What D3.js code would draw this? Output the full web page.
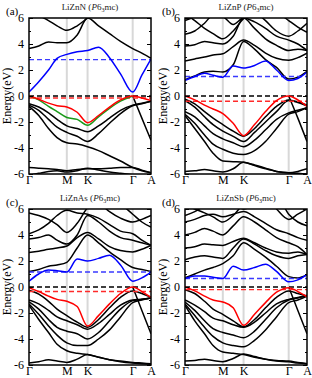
<!doctype html>
<html lang="en">
<head>
  <meta charset="UTF-8">
  <title>LiZnX band structures</title>
  <style type="text/css">
    body { margin: 0; background: #fff; }
    text { font-family: "Liberation Serif", "DejaVu Serif", serif; }
  </style>
  <script src="https://cdn.jsdelivr.net/npm/d3@7"></script>
</head>
<body>
  <div id="container"></div>
  <script>
    // k-path sample positions (fraction of the path) and high-symmetry labels
    var kpos = [0, .08, .16, .23, .31, .395, .48, .57, .66, .75, .85, .925, 1.0];
    var kLabelPos = [0, .31, .48, .85, 1.0];
    var kLabels = ["Γ", "M", "K", "Γ", "A"];
    var eTicks = [-6, -4, -2, 0, 2, 4, 6];
    var compounds = ["LiZnN", "LiZnP", "LiZnAs", "LiZnSb"];
    var tags = ["(a)", "(b)", "(c)", "(d)"];
    var cbmLevel = [2.8, 1.5, 1.15, 0.65];
    var vbmLevel = [-0.15, -0.4, -0.35, -0.2];

    // highlighted bands
    var blueA = [0.3, 1.1, 2.0, 2.9, 3.2, 3.4, 3.5, 3.75, 2.95, 1.7, 0.3, 1.6, 2.85];
    var redA = [0, -0.25, -0.55, -0.75, -0.85, -1.25, -2.05, -1.5, -0.85, -0.3, 0, -0.15, -0.35];
    var greenA = [0, -0.3, -0.8, -1.2, -1.65, -1.8, -2.25, -1.6, -0.95, -0.4, 0, null, null];
    var blueB = [1.2, 1.5, 1.75, 1.6, 1.45, 2.3, 2.15, 2.35, 2.7, 2.0, 1.2, 1.35, 1.85];
    var redB = [0, -0.3, -0.7, -1.0, -1.35, -2.1, -3.05, -2.2, -1.2, -0.35, 0, -0.3, -0.8];
    var blueC = [0.45, 1.0, 1.3, 1.25, 1.15, 2.15, 2.0, 2.2, 2.45, 1.7, 0.45, 0.7, 1.15];
    var redC = [-0.05, -0.35, -0.7, -0.95, -1.1, -1.5, -3.0, -2.2, -1.3, -0.5, 0, -0.35, -0.8];
    var blueD = [0.65, 0.85, 0.85, 0.75, 0.65, 1.6, 1.3, 1.5, 1.75, 1.2, 0.4, 0.55, 0.95];
    var redD = [0, -0.3, -0.7, -1.0, -1.15, -1.6, -2.95, -2.1, -1.2, -0.4, -0.05, -0.35, -0.75];

    // other (black) bands; null = band not drawn on that part of the path
    var bandsA = [
      [3.65, 3.85, 4.15, 4.1, 4.1, 4.7, 6.0, 5.4, 4.8, 4.2, 3.65, 3.3, 2.9],
      [6.6, 6.2, 5.8, 5.4, 5.05, 5.4, 6.0, 6.6, 7, 7, 7, 7, 7],
      [null, null, null, null, null, null, null, null, null, null, 0, -1.7, -3.4],
      [-0.6, -0.85, -1.3, -1.8, -2.3, -2.5, -2.75, -2.3, -1.7, -1.1, -0.7, -0.55, -0.4],
      [-0.7, -1.1, -1.8, -2.4, -2.8, -3.1, -3.5, -2.9, -2.1, -1.35, -0.75, -0.6, -0.4],
      [-0.8, -1.5, -2.5, -3.2, -3.6, -3.7, -3.9, -4.2, -4.6, -5.0, -5.5, -5.75, -5.9],
      [-5.5, -5.55, -5.6, -5.65, -5.75, -5.65, -5.6, -5.6, -5.55, -5.5, -5.5, -5.7, -5.9],
      [-6.1, -5.95, -5.8, -5.75, -5.85, -5.75, -5.55, -5.7, -5.85, -5.95, -6.05, -6.1, -6.1]
    ];
    var bandsB = [
      [1.25, 1.55, 1.85, 1.9, 1.85, 2.4, 4.2, 3.6, 2.8, 2.2, 1.3, 1.45, 1.9],
      [2.7, 2.85, 3.0, 3.15, 3.25, 3.8, 4.3, 3.9, 3.3, 2.9, 2.75, 2.95, 3.3],
      [3.85, 3.95, 4.2, 4.1, 4.0, 4.6, 6.0, 5.2, 4.4, 3.9, 3.5, 3.6, 3.5],
      [4.75, 5.0, 5.6, 6.2, 6.1, 5.5, 6.0, 5.7, 5.2, 4.6, 4.3, 4.0, 3.5],
      [6.3, 5.8, 5.2, 4.8, 4.4, 5.0, 5.95, 6.5, 7, 6.5, 5.8, 5.3, 4.9],
      [5.8, 6.1, 6.5, 7, 7, 7, 7, 6.5, 5.8, 5.0, 4.6, 5.0, 5.6],
      [null, null, null, null, null, null, null, null, null, null, 0, -1.7, -3.5],
      [-0.25, -0.6, -1.2, -1.7, -2.2, -2.7, -3.1, -2.5, -1.6, -0.8, -0.3, -0.45, -0.7],
      [-0.35, -0.85, -1.6, -2.2, -2.7, -3.1, -3.5, -2.8, -2.0, -1.2, -0.35, -0.5, -0.75],
      [-1.2, -1.6, -2.3, -2.9, -3.3, -3.6, -3.9, -3.4, -2.6, -1.8, -1.3, -1.1, -0.9],
      [-1.4, -2.1, -3.0, -3.7, -4.1, -4.4, -4.5, -4.2, -3.5, -2.5, -1.4, -1.2, -0.9],
      [-1.5, -2.5, -3.5, -4.4, -5.0, -5.05, -5.1, -5.3, -5.55, -5.8, -5.9, -5.8, -5.6],
      [-5.8, -5.75, -5.65, -5.75, -5.85, -5.6, -5.1, -5.35, -5.6, -5.8, -5.9, -5.95, -6.0]
    ];
    var bandsC = [
      [1.2, 1.35, 1.6, 1.7, 1.9, 3.0, 4.0, 3.4, 2.7, 2.1, 1.5, 1.35, 1.2],
      [2.65, 2.75, 2.9, 3.0, 3.15, 3.8, 4.2, 3.7, 3.1, 2.8, 2.7, 2.9, 3.2],
      [3.7, 3.8, 4.0, 3.6, 3.3, 4.0, 5.5, 5.0, 4.3, 3.8, 3.6, 3.4, 3.2],
      [4.1, 4.4, 4.9, 5.5, 5.9, 5.7, 5.6, 5.3, 4.8, 4.3, 4.1, 3.6, 3.2],
      [5.7, 5.5, 5.2, 4.8, 4.2, 4.9, 6.1, 6.6, 7, 6.4, 5.6, 5.0, 4.6],
      [6.0, 6.2, 6.6, 7, 7, 7, 7, 6.5, 5.8, 5.3, 5.0, 5.2, 5.5],
      [null, null, null, null, null, null, null, null, null, null, 0, -1.8, -3.6],
      [-0.25, -0.55, -1.1, -1.7, -2.2, -2.7, -3.1, -2.5, -1.6, -0.8, -0.3, -0.5, -0.8],
      [-1.0, -1.3, -1.8, -2.3, -2.6, -2.9, -3.25, -2.8, -2.1, -1.4, -1.0, -0.95, -0.85],
      [-1.15, -1.7, -2.5, -3.1, -3.4, -3.6, -4.0, -3.5, -2.6, -1.7, -1.05, -0.95, -0.85],
      [-1.3, -2.1, -3.0, -3.7, -4.3, -4.5, -4.5, -4.0, -3.3, -2.3, -1.2, -1.0, -0.85],
      [-1.4, -2.5, -3.5, -4.4, -4.9, -5.1, -5.2, -5.4, -5.6, -5.7, -5.8, -5.85, -5.9],
      [-5.85, -5.75, -5.6, -5.7, -5.8, -5.55, -5.2, -5.4, -5.6, -5.75, -5.85, -5.9, -5.95]
    ];
    var bandsD = [
      [0.7, 1.0, 1.3, 1.5, 1.8, 2.4, 3.4, 2.9, 2.3, 1.6, 0.8, 0.7, 0.95],
      [2.1, 2.3, 2.4, 2.3, 2.2, 3.0, 3.7, 3.3, 2.8, 2.4, 2.2, 2.4, 2.5],
      [3.0, 3.1, 3.3, 3.25, 3.2, 3.5, 3.75, 3.4, 3.0, 2.7, 2.6, 2.7, 2.5],
      [4.0, 4.2, 4.5, 4.3, 4.0, 4.7, 5.4, 5.0, 4.4, 3.8, 3.4, 3.1, 2.5],
      [5.0, 5.2, 5.5, 5.6, 5.4, 5.6, 5.8, 5.4, 4.9, 4.4, 4.1, 3.8, 3.6],
      [5.5, 5.8, 6.3, 7, 7, 6.5, 6.0, 6.3, 6.8, 7, 5.6, 5.0, 4.7],
      [6.3, 6.0, 5.7, 5.4, 5.0, 5.5, 6.4, 7, 7, 6.0, 5.2, 5.6, 6.0],
      [null, null, null, null, null, null, null, null, null, null, 0, -1.8, -3.6],
      [-0.2, -0.5, -1.1, -1.7, -2.1, -2.6, -3.05, -2.5, -1.6, -0.8, -0.3, -0.5, -0.7],
      [-1.0, -1.4, -1.9, -2.4, -2.6, -2.9, -3.1, -2.7, -2.0, -1.3, -0.95, -0.8, -0.65],
      [-1.15, -1.8, -2.6, -3.2, -3.5, -3.7, -3.9, -3.4, -2.5, -1.6, -1.0, -0.85, -0.65],
      [-1.3, -2.2, -3.1, -3.8, -4.3, -4.5, -4.6, -4.1, -3.3, -2.3, -1.2, -1.0, -0.7],
      [-1.4, -2.6, -3.6, -4.5, -5.0, -5.1, -5.2, -5.4, -5.55, -5.65, -5.7, -5.8, -5.9],
      [-5.7, -5.65, -5.55, -5.65, -5.75, -5.5, -5.15, -5.35, -5.55, -5.7, -5.75, -5.85, -5.9]
    ];

    var blacks = [bandsA, bandsB, bandsC, bandsD];
    var blues = [blueA, blueB, blueC, blueD];
    var reds = [redA, redB, redC, redD];
    var greens = [greenA, null, null, null];

    var width = 312, height = 378;
    var pw = 122, ph = 156;
    var origins = [[29, 18], [185, 18], [29, 209], [185, 209]];

    var svg = d3.select('#container').append('svg')
      .attr('width', width).attr('height', height);

    var x = d3.scaleLinear().domain([0, 1]).range([0, pw]);
    var y = d3.scaleLinear().domain([-6, 6]).range([ph, 0]);

    var line = d3.line()
      .defined(function (d) { return d != null; })
      .x(function (d, i) { return x(kpos[i]); })
      .y(function (d) { return y(d); })
      .curve(d3.curveMonotoneX);

    svg.append('defs').append('clipPath').attr('id', 'clip')
      .append('rect').attr('width', pw).attr('height', ph);

    origins.forEach(function (o, p) {
      var g = svg.append('g').attr('transform', 'translate(' + o[0] + ',' + o[1] + ')');

      // vertical lines at high-symmetry points
      g.selectAll('.kline').data(kLabelPos.slice(1, 4)).enter().append('line')
        .attr('x1', function (d) { return x(d); }).attr('x2', function (d) { return x(d); })
        .attr('y1', 0).attr('y2', ph)
        .attr('stroke', '#d8d8d8').attr('stroke-width', 2);

      var plot = g.append('g').attr('clip-path', 'url(#clip)');

      blacks[p].forEach(function (b) {
        plot.append('path').attr('d', line(b))
          .attr('fill', 'none').attr('stroke', '#000').attr('stroke-width', 1.5);
      });

      // reference levels
      var levels = [[0, '#000'], [cbmLevel[p], '#3a3aff'], [vbmLevel[p], '#ff2a2a']];
      levels.forEach(function (l) {
        plot.append('line').attr('x1', 0).attr('x2', pw)
          .attr('y1', y(l[0])).attr('y2', y(l[0]))
          .attr('stroke', l[1]).attr('stroke-width', 1.4)
          .attr('stroke-dasharray', '5,3');
      });

      if (greens[p]) {
        plot.append('path').attr('d', line(greens[p]))
          .attr('fill', 'none').attr('stroke', '#1a9a1a').attr('stroke-width', 1.5);
      }
      plot.append('path').attr('d', line(reds[p]))
        .attr('fill', 'none').attr('stroke', '#ff0000').attr('stroke-width', 1.5);
      plot.append('path').attr('d', line(blues[p]))
        .attr('fill', 'none').attr('stroke', '#0000ff').attr('stroke-width', 1.5);

      // axes
      var yAxis = g.append('g').call(d3.axisLeft(y).tickValues(eTicks)
        .tickFormat(function (d) { return d < 0 ? '-' + (-d) : d; })
        .tickSizeInner(-4).tickSizeOuter(0).tickPadding(5));
      yAxis.selectAll('text').attr('font-size', 12).attr('fill', '#000')
        .style('font-family', '"Liberation Serif", serif');
      g.append('g').call(d3.axisLeft(y).tickValues(d3.range(-5, 6, 2))
        .tickSizeInner(-2).tickSizeOuter(0).tickFormat(''));
      g.append('g').attr('transform', 'translate(' + pw + ',0)')
        .call(d3.axisRight(y).tickValues(eTicks).tickSizeInner(-4).tickSizeOuter(0).tickFormat(''));
      g.append('g').attr('transform', 'translate(' + pw + ',0)')
        .call(d3.axisRight(y).tickValues(d3.range(-5, 6, 2)).tickSizeInner(-2).tickSizeOuter(0).tickFormat(''));

      var xAxis = g.append('g').attr('transform', 'translate(0,' + ph + ')')
        .call(d3.axisBottom(x).tickValues(kLabelPos)
          .tickFormat(function (d, i) { return kLabels[i]; })
          .tickSizeInner(0).tickSizeOuter(0).tickPadding(1));
      xAxis.selectAll('text').attr('font-size', 12).attr('fill', '#000')
        .style('font-family', '"Liberation Serif", serif');
      svg.selectAll('.domain').attr('stroke', 'none');

      g.append('rect').attr('width', pw).attr('height', ph)
        .attr('fill', 'none').attr('stroke', '#000').attr('stroke-width', 1.5);

      // y label
      g.append('text')
        .attr('transform', 'translate(-18,' + (ph / 2) + ') rotate(-90)')
        .attr('text-anchor', 'middle').attr('font-size', 12)
        .text('Energy(eV)');

      // title
      var t = g.append('text').attr('x', pw / 2).attr('y', -8)
        .attr('text-anchor', 'middle').attr('font-size', 9).attr('fill', '#222');
      t.append('tspan').text(compounds[p] + ' (');
      t.append('tspan').attr('font-style', 'italic').text('P');
      t.append('tspan').text('6');
      t.append('tspan').attr('font-size', 6).attr('dy', 2).text('3');
      t.append('tspan').attr('dy', -2).text('mc)');

      g.append('text').attr('x', -23).attr('y', -3)
        .attr('font-size', 11).text(tags[p]);
    });
  </script>
</body>
</html>
